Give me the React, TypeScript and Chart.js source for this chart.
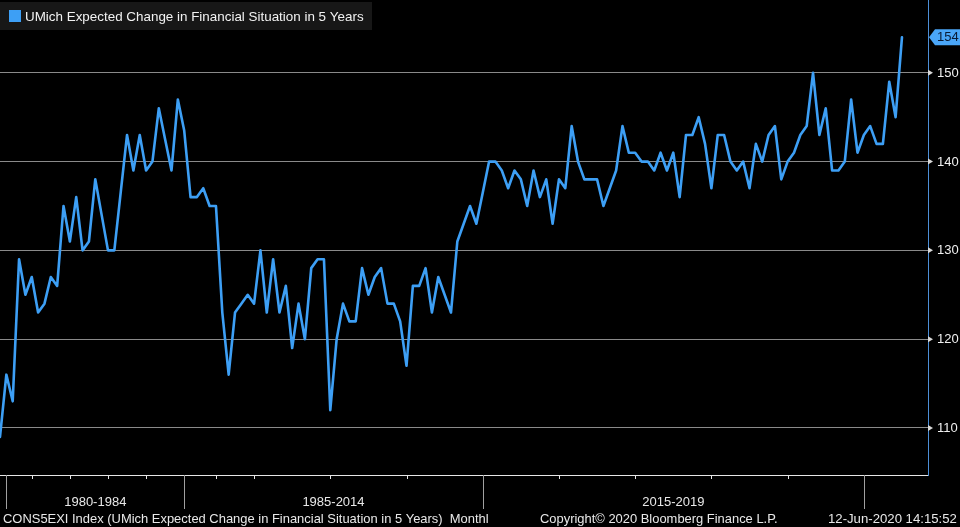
import React, { useEffect, useRef } from 'react';
import { Chart, registerables } from 'chart.js';

Chart.register(...registerables);

// Observation values (evenly spaced observations, oldest first)
const values: number[] = [
  109, 116, 113, 129, 125, 127, 123, 124, 127, 126,
  135, 131, 136, 130, 131, 138, 134, 130, 130, 136.5,
  143, 139, 143, 139, 140, 146, 142.5, 139, 147, 143.5,
  136, 136, 137, 135, 135, 123, 116, 123, 124, 125,
  124, 130, 123, 129, 123, 126, 119, 124, 120, 128,
  129, 129, 112, 120, 124, 122, 122, 128, 125, 127,
  128, 124, 124, 122, 117, 126, 126, 128, 123, 127,
  125, 123, 131, 133, 135, 133, 136.5, 140, 140, 139,
  137, 139, 138, 135, 139, 136, 138, 133, 138, 137,
  144, 140, 138, 138, 138, 135, 137, 139, 144, 141,
  141, 140, 140, 139, 141, 139, 141, 136, 143, 143,
  145, 142, 137, 143, 143, 140, 139, 140, 137, 142,
  140, 143, 144, 138, 140, 141, 143, 144, 150, 143,
  146, 139, 139, 140, 147, 141, 143, 144, 142, 142,
  149, 145, 154,
];

const yTicks: number[] = [110, 120, 130, 140, 150];
const sectionLabels: string[] = ['1980-1984', '1985-2014', '2015-2019'];
const sectionBounds: number[] = [1, 29, 76, 136];
const minorTicks: number[] = [5, 11, 17, 23, 34, 40, 52, 64, 88, 100, 112, 124];
const legendLabel = 'UMich Expected Change in Financial Situation in 5 Years';
const footerLeft = 'CONS5EXI Index (UMich Expected Change in Financial Situation in 5 Years)  Monthl';
const footerMid = 'Copyright\u00A9 2020 Bloomberg Finance L.P.';
const footerRight = '12-Jun-2020 14:15:52';

const LINE_COLOR = '#3d9ff5';
const FONT = '"Liberation Sans", Arial, sans-serif';

function fitSize(ctx: CanvasRenderingContext2D, text: string, target: number): number {
  ctx.font = `100px ${FONT}`;
  const w = ctx.measureText(text).width;
  return (100 * target) / w;
}

const bloombergPlugin = {
  id: 'bloomberg',
  beforeDraw(chart: any) {
    const { ctx, width, height } = chart;
    ctx.save();
    ctx.fillStyle = '#000';
    ctx.fillRect(0, 0, width, height);
    ctx.restore();
  },
  afterDraw(chart: any) {
    const { ctx, chartArea } = chart;
    const xs = chart.scales.x;
    const ys = chart.scales.y;
    const right = chartArea.right;
    const bottom = chartArea.bottom;
    ctx.save();

    // x axis line
    ctx.strokeStyle = '#e6e6e6';
    ctx.lineWidth = 1;
    ctx.beginPath();
    ctx.moveTo(0, bottom + 0.5);
    ctx.lineTo(right, bottom + 0.5);
    ctx.stroke();

    // minor ticks
    ctx.strokeStyle = '#e6e6e6';
    minorTicks.forEach((t) => {
      const x = Math.round(xs.getPixelForValue(t)) + 0.5;
      ctx.beginPath();
      ctx.moveTo(x, bottom);
      ctx.lineTo(x, bottom + 4);
      ctx.stroke();
    });

    // major ticks
    ctx.strokeStyle = '#a0a0a0';
    sectionBounds.forEach((t) => {
      const x = Math.round(xs.getPixelForValue(t)) + 0.5;
      ctx.beginPath();
      ctx.moveTo(x, bottom);
      ctx.lineTo(x, bottom + 34);
      ctx.stroke();
    });

    // section labels
    ctx.fillStyle = '#e8e8e8';
    ctx.textAlign = 'center';
    ctx.textBaseline = 'middle';
    ctx.font = `13px ${FONT}`;
    sectionLabels.forEach((lab, i) => {
      const x0 = xs.getPixelForValue(sectionBounds[i]);
      const x1 = xs.getPixelForValue(sectionBounds[i + 1]);
      ctx.fillText(lab, (x0 + x1) / 2, bottom + 27);
    });

    // footer
    ctx.textAlign = 'left';
    ctx.fillStyle = '#e8e8e8';
    const fLeftSize = fitSize(ctx, 'CONS5EXI Index (UMich Expected Change in Financial Situation in 5 Years)', 440);
    ctx.font = `${fLeftSize}px ${FONT}`;
    ctx.fillText(footerLeft, 3, 519);
    const fMidSize = fitSize(ctx, footerMid, 238);
    ctx.font = `${fMidSize}px ${FONT}`;
    ctx.fillText(footerMid, 540, 519);
    const fRightSize = fitSize(ctx, footerRight, 129);
    ctx.font = `${fRightSize}px ${FONT}`;
    ctx.fillText(footerRight, 828, 519);

    // y tick labels with pointers
    ctx.font = `13px ${FONT}`;
    yTicks.forEach((v) => {
      const y = ys.getPixelForValue(v);
      ctx.fillStyle = '#d8d8d8';
      ctx.beginPath();
      ctx.moveTo(right, y - 3);
      ctx.lineTo(right + 5, y);
      ctx.lineTo(right, y + 3);
      ctx.closePath();
      ctx.fill();
      ctx.fillStyle = '#f0f0f0';
      ctx.textAlign = 'left';
      ctx.fillText(String(v), right + 9, y + 0.5);
    });

    // last value label
    const last = values[values.length - 1];
    const ly = ys.getPixelForValue(last);
    ctx.fillStyle = '#4aa6f8';
    ctx.beginPath();
    ctx.moveTo(right + 1, ly);
    ctx.lineTo(right + 7, ly - 8);
    ctx.lineTo(960, ly - 8);
    ctx.lineTo(960, ly + 8);
    ctx.lineTo(right + 7, ly + 8);
    ctx.closePath();
    ctx.fill();
    ctx.fillStyle = '#0a1a33';
    ctx.fillText(String(last), right + 9, ly + 0.5);

    // legend
    ctx.fillStyle = '#171717';
    ctx.fillRect(0, 2, 372, 28);
    ctx.fillStyle = LINE_COLOR;
    ctx.fillRect(9, 10, 12, 12);
    const lSize = fitSize(ctx, legendLabel, 339);
    ctx.font = `${lSize}px ${FONT}`;
    ctx.fillStyle = '#f2f2f2';
    ctx.textAlign = 'left';
    ctx.fillText(legendLabel, 25, 17);

    ctx.restore();
  },
};

export default function App() {
  const ref = useRef<HTMLCanvasElement | null>(null);
  useEffect(() => {
    if (!ref.current) return;
    const chart = new Chart(ref.current, {
      type: 'line',
      data: {
        datasets: [
          {
            data: values.map((v, i) => ({ x: i, y: v })),
            borderColor: LINE_COLOR,
            borderWidth: 2.6,
            borderJoinStyle: 'round',
            borderCapStyle: 'round',
            pointRadius: 0,
            tension: 0,
            fill: false,
          },
        ],
      },
      options: {
        animation: false,
        responsive: false,
        devicePixelRatio: 1,
        layout: { padding: { left: 0, right: 0, top: 0, bottom: 52 } },
        plugins: { legend: { display: false }, tooltip: { enabled: false } },
        scales: {
          x: { type: 'linear', min: 0, max: 146.1, display: false },
          y: {
            position: 'right',
            min: 104.7,
            max: 158.2,
            afterFit: (s: any) => {
              s.width = 32;
            },
            afterBuildTicks: (s: any) => {
              s.ticks = yTicks.map((v) => ({ value: v }));
            },
            grid: { color: '#8a8a8a', lineWidth: 1, drawTicks: false },
            border: { display: true, color: '#4d8fd6', width: 1 },
            ticks: { display: false },
          },
        },
      },
      plugins: [bloombergPlugin],
    });
    return () => chart.destroy();
  }, []);
  return (
    <div style={{ position: 'fixed', left: 0, top: 0, width: 960, height: 527, background: '#000' }}>
      <canvas ref={ref} width={960} height={527} style={{ display: 'block' }} />
    </div>
  );
}
